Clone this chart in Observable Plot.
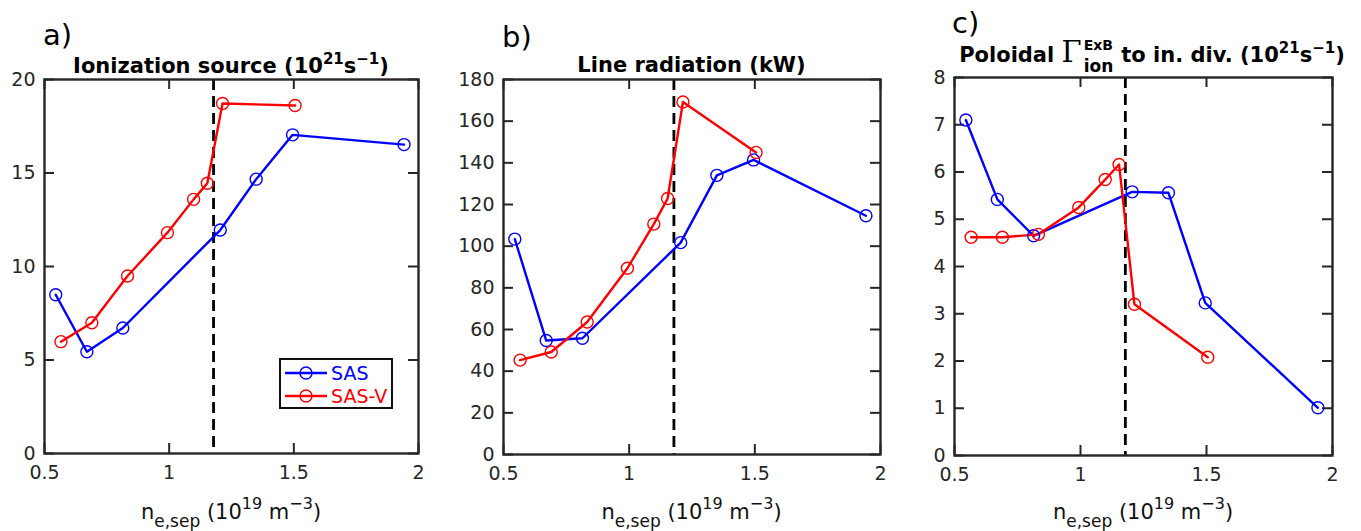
<!DOCTYPE html>
<html>
<head>
<meta charset="utf-8">
<script src="https://cdn.jsdelivr.net/npm/d3@7"></script>
<script src="https://cdn.jsdelivr.net/npm/@observablehq/plot@0.6"></script>
<style>
  html, body { margin: 0; padding: 0; background: #fff; }
  #wrap { position: relative; width: 1361px; height: 531px; overflow: hidden; background: #fff; }
  #wrap > svg { position: absolute; top: 0; max-width: none; }
</style>
</head>
<body>
<div id="wrap"></div>
<script>
// ---------------- data ----------------
const seriesNames = ["SAS", "SAS-V"];
const seriesColors = ["#0000ff", "#ff0000"];

// separatrix electron density (1e19 m^-3)
const sasX  = [0.545, 0.670, 0.814, 1.205, 1.349, 1.495, 1.942];
const sasvX = [0.566, 0.690, 0.833, 0.993, 1.098, 1.153, 1.214, 1.505];

// a) Ionization source (1e21 s^-1)
const ionSAS  = [8.49, 5.44, 6.71, 11.95, 14.67, 17.04, 16.52];
const ionSASV = [5.98, 6.99, 9.49, 11.81, 13.59, 14.45, 18.72, 18.61];

// b) Line radiation (kW)
const radSAS  = [103.4, 54.7, 55.8, 101.7, 134.0, 141.4, 114.6];
const radSASV = [45.3, 49.2, 63.6, 89.4, 110.6, 122.9, 169.2, 145.0];

// c) Poloidal ExB ion flux to inner divertor (1e21 s^-1)
const exbSAS  = [7.10, 5.42, 4.65, 5.58, 5.56, 3.23, 1.01];
const exbSASV = [4.62, 4.62, 4.68, 5.25, 5.84, 6.16, 3.20, 2.08];

// dashed reference density
const rolloverX = [1.178];

// ticks
const xTicks   = [0.5, 1, 1.5, 2];
const ionTicks = [0, 5, 10, 15, 20];
const radTicks = [0, 20, 40, 60, 80, 100, 120, 140, 160, 180];
const exbTicks = [0, 1, 2, 3, 4, 5, 6, 7, 8];

// ---------------- drawing ----------------
const FONT = '"DejaVu Sans", sans-serif';
const INK = "#262626";
const wrap = d3.select("#wrap");

function makePanel({box, yDomain, yTicks, ySAS, ySASV}) {
  const mL = 70, mR = 30, H = 531;
  const plotW = box.right - box.left, plotH = box.bottom - box.top;
  const rows = [
    ...sasX.map((x, i) => ({x, y: ySAS[i], s: seriesNames[0]})),
    ...sasvX.map((x, i) => ({x, y: ySASV[i], s: seriesNames[1]}))
  ];
  const chart = Plot.plot({
    width: plotW + mL + mR,
    height: H,
    marginLeft: mL, marginRight: mR,
    marginTop: box.top, marginBottom: H - box.bottom,
    style: {fontFamily: FONT, fontSize: "19px", color: INK, background: "transparent", overflow: "visible"},
    x: {domain: [0.5, 2]},
    y: {domain: yDomain},
    color: {domain: seriesNames, range: seriesColors},
    marks: [
      Plot.axisX(xTicks, {tickSize: 0, tickPadding: 12, tickFormat: d => String(d), label: null, fontSize: 19}),
      Plot.axisY(yTicks, {tickSize: 0, tickPadding: 9, tickFormat: d => String(d), label: null, fontSize: 19}),
      // inward ticks on all four sides
      Plot.tickX(xTicks, {x: d => d, insetTop: plotH - 10, stroke: INK, strokeWidth: 2}),
      Plot.tickX(xTicks, {x: d => d, insetBottom: plotH - 10, stroke: INK, strokeWidth: 2}),
      Plot.tickY(yTicks, {y: d => d, insetRight: plotW - 10, stroke: INK, strokeWidth: 2}),
      Plot.tickY(yTicks, {y: d => d, insetLeft: plotW - 10, stroke: INK, strokeWidth: 2}),
      Plot.ruleX(rolloverX, {stroke: "#000", strokeWidth: 2.8, strokeDasharray: "11,6"}),
      Plot.line(rows, {x: "x", y: "y", z: "s", stroke: "s", strokeWidth: 2.4}),
      Plot.dot(rows, {x: "x", y: "y", stroke: "s", r: 6, strokeWidth: 1.4, fill: "none"}),
      Plot.frame({stroke: INK, strokeWidth: 2.4})
    ]
  });
  d3.select(chart).style("left", (box.left - mL) + "px");
  wrap.node().appendChild(chart);
}

const boxA = {left: 44,  right: 418,  top: 79, bottom: 453};
const boxB = {left: 503, right: 880,  top: 79, bottom: 454};
const boxC = {left: 954, right: 1332, top: 77, bottom: 455};

makePanel({box: boxA, yDomain: [0, 20],  yTicks: ionTicks, ySAS: ionSAS, ySASV: ionSASV});
makePanel({box: boxB, yDomain: [0, 180], yTicks: radTicks, ySAS: radSAS, ySASV: radSASV});
makePanel({box: boxC, yDomain: [0, 8],   yTicks: exbTicks, ySAS: exbSAS, ySASV: exbSASV});

// ---------------- text overlay ----------------
const ov = wrap.append("svg").attr("width", 1361).attr("height", 531)
  .style("left", "0px").style("top", "0px").style("overflow", "visible");

function addText(x, y, parts, {anchor = "start", size = 18, weight = "normal", fill = "#000", family = FONT} = {}) {
  const t = ov.append("text").attr("x", x).attr("y", y).attr("text-anchor", anchor)
    .attr("font-family", family).attr("font-size", size).attr("font-weight", weight).attr("fill", fill)
    .style("white-space", "pre");
  let shift = 0;
  for (const p of parts) {
    const s = p.shift || 0;
    const ts = t.append("tspan").text(p.t).attr("dy", -(s - shift));
    if (p.size) ts.attr("font-size", p.size);
    if (p.family) ts.attr("font-family", p.family);
    if (p.weight) ts.attr("font-weight", p.weight);
    shift = s;
  }
  return t;
}

// panel letters
addText(43, 45, [{t: "a)"}], {size: 29});
addText(502, 47, [{t: "b)"}], {size: 29});
addText(952, 33, [{t: "c)"}], {size: 29});

// titles
const TS = 21, SUP = 15;
addText((boxA.left + boxA.right) / 2, 73,
  [{t: "Ionization source (10"}, {t: "21", shift: 9, size: SUP}, {t: "s"}, {t: "\u22121", shift: 9, size: SUP}, {t: ")"}],
  {anchor: "middle", size: TS, weight: "bold"});
addText((boxB.left + boxB.right) / 2, 72,
  [{t: "Line radiation (kW)"}],
  {anchor: "middle", size: TS, weight: "bold"});

// panel c title with stacked super/subscript on Gamma
(function () {
  const base = 62, center = 1152;
  const t1 = addText(0, base, [{t: "Poloidal "}, {t: "\u0393", family: '"DejaVu Serif", serif', weight: "normal", size: 29}],
    {size: TS, weight: "bold"});
  const sup = addText(0, base - 12, [{t: "ExB"}], {size: 14, weight: "bold"});
  const sub = addText(0, base + 10, [{t: "ion"}], {size: 17, weight: "bold"});
  const t2 = addText(0, base, [{t: "to in. div. (10"}, {t: "21", shift: 9, size: SUP}, {t: "s"}, {t: "\u22121", shift: 9, size: SUP}, {t: ")"}],
    {size: TS, weight: "bold"});
  const w1 = t1.node().getComputedTextLength();
  const ws = Math.max(sup.node().getComputedTextLength(), sub.node().getComputedTextLength());
  const w2 = t2.node().getComputedTextLength();
  const gap = 2, gap2 = 8;
  const total = w1 + gap + ws + gap2 + w2;
  const x0 = center - total / 2;
  t1.attr("x", x0);
  sup.attr("x", x0 + w1 + gap);
  sub.attr("x", x0 + w1 + gap);
  t2.attr("x", x0 + w1 + gap + ws + gap2);
})();

// x-axis labels
for (const b of [boxA, boxB, boxC]) {
  addText((b.left + b.right) / 2, 519,
    [{t: "n"}, {t: "e,sep", shift: -8, size: 17}, {t: " (10"}, {t: "19", shift: 10, size: 16},
     {t: " m"}, {t: "\u22123", shift: 10, size: 16}, {t: ")"}],
    {anchor: "middle", size: 21, fill: "#111"});
}

// legend (panel a)
(function () {
  const lx = 280, ly = 359, lw = 112, lh = 49;
  ov.append("rect").attr("x", lx).attr("y", ly).attr("width", lw).attr("height", lh)
    .attr("fill", "#fff").attr("stroke", "#111").attr("stroke-width", 2);
  seriesNames.forEach((name, i) => {
    const cy = ly + 14 + i * 23;
    const g = ov.append("g").attr("stroke", seriesColors[i]).attr("fill", "none");
    g.append("line").attr("x1", lx + 5).attr("x2", lx + 47).attr("y1", cy).attr("y2", cy).attr("stroke-width", 2.4);
    g.append("circle").attr("cx", lx + 26).attr("cy", cy).attr("r", 6).attr("stroke-width", 1.4);
    addText(lx + 51, cy + 7, [{t: name}], {size: 19, fill: seriesColors[i]});
  });
})();
</script>
</body>
</html>
